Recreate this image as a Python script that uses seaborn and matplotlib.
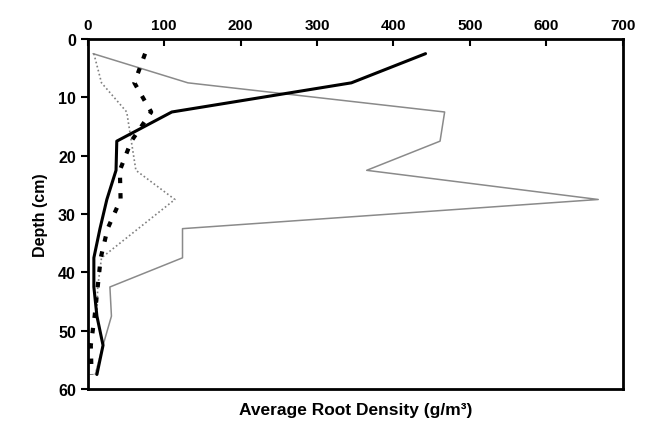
import numpy as np
import pandas as pd
import seaborn as sns
import matplotlib.pyplot as plt

# Data
depth = [2.5, 7.5, 12.5, 17.5, 22.5, 27.5, 32.5, 37.5, 42.5, 47.5, 52.5, 57.5]
solid_black = [442, 345, 110, 38, 37, 25, 16, 8, 8, 12, 20, 12]
dashed_black = [75, 61, 83, 57, 42, 43, 26, 17, 13, 9, 4, 5]
thin_grey = [7, 131, 467, 461, 365, 668, 124, 124, 29, 31, 20, 10]
dotted_grey = [8, 18, 51, 57, 63, 114, 66, 18, 13, 12, 20, 10]

x_ticks = [0, 100, 200, 300, 400, 500, 600, 700]
y_ticks = [0, 10, 20, 30, 40, 50, 60]

sns.set_style("white")
plt.rcParams['font.family'] = ['Liberation Sans', 'DejaVu Sans']
plt.rcParams['text.color'] = 'black'
plt.rcParams['axes.labelcolor'] = 'black'
plt.rcParams['xtick.color'] = 'black'
plt.rcParams['ytick.color'] = 'black'

fig, ax = plt.subplots(figsize=(6.5, 4.31), dpi=100)
fig.subplots_adjust(left=0.135, right=0.958, top=0.907, bottom=0.095)

sns.lineplot(x=thin_grey, y=depth, orient='y', sort=False, ax=ax,
             color='#8a8a8a', linewidth=1.1)
sns.lineplot(x=dotted_grey, y=depth, orient='y', sort=False, ax=ax,
             color='#808080', linewidth=1.2, linestyle=(0, (1, 1.5)))
sns.lineplot(x=dashed_black, y=depth, orient='y', sort=False, ax=ax,
             color='black', linewidth=3, linestyle=(0, (1.3, 2.4)))
sns.lineplot(x=solid_black, y=depth, orient='y', sort=False, ax=ax,
             color='black', linewidth=2.2)

ax.set_xlim(0, 700)
ax.set_ylim(60, 0)
ax.set_xticks(x_ticks)
ax.set_yticks(y_ticks)
ax.xaxis.tick_top()
ax.tick_params(axis='x', direction='in', length=5, width=1.5, labelsize=11, pad=5)
ax.tick_params(axis='y', direction='out', length=5, width=1.5, labelsize=11.5, left=True)
for lab in ax.get_xticklabels() + ax.get_yticklabels():
    lab.set_fontweight('bold')

for sp in ax.spines.values():
    sp.set_color('black')
    sp.set_linewidth(2)

ax.set_xlabel('Average Root Density (g/m³)', fontsize=12.5, fontweight='bold', labelpad=9)
ax.xaxis.set_label_position('bottom')
ax.set_ylabel('Depth (cm)', fontsize=11.5, fontweight='bold', labelpad=7)

plt.savefig('out.png', dpi=100)
